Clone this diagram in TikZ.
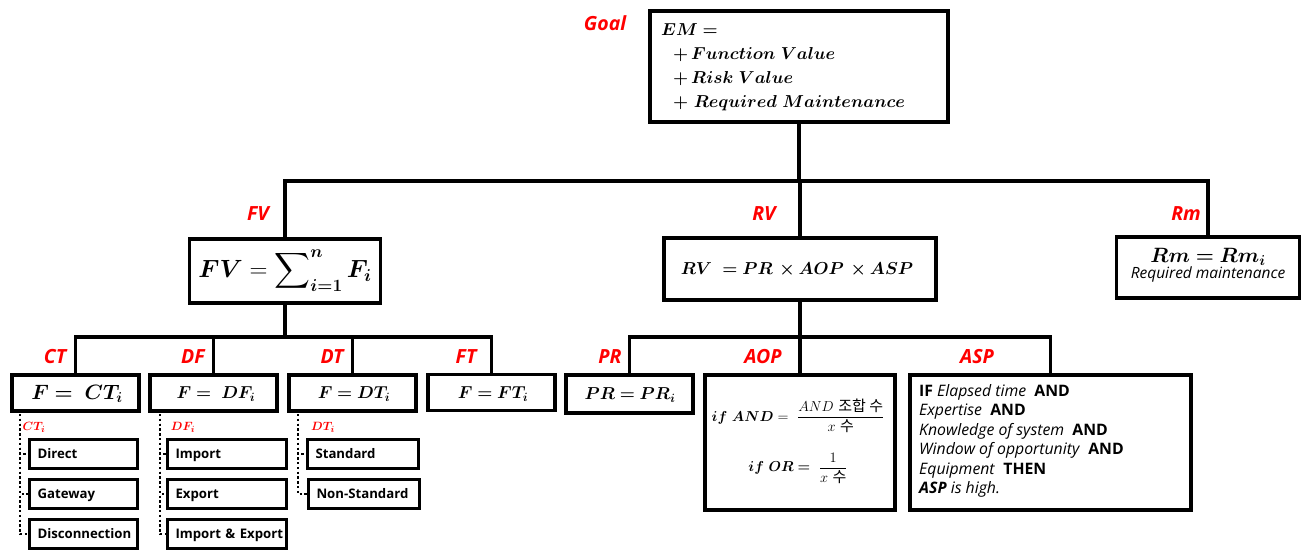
\documentclass[tikz,border=0pt]{standalone}
\usepackage{fontspec}
\usepackage{amsmath,bm}
\setsansfont{Open Sans}
\newfontfamily\kr{Noto Sans CJK KR}
\usetikzlibrary{shadows}
\tikzset{
  box/.style={draw, line width=3.6pt, fill=white, inner sep=0pt, line join=miter,
    drop shadow={shadow xshift=1.2pt, shadow yshift=-1.2pt, opacity=.3, fill=black}},
  itembox/.style={draw, line width=3pt, fill=white, inner xsep=8pt, inner ysep=0pt,
    text height=11pt, text depth=2pt,
    minimum height=29pt, align=left, font=\sffamily\bfseries\fontsize{13.2}{15}\selectfont,
    drop shadow={shadow xshift=1pt, shadow yshift=-1pt, opacity=.3, fill=black}},
  conn/.style={line width=3.6pt, line cap=rect, line join=miter},
  dotline/.style={line width=2.6pt, dash pattern=on 2.4pt off 2.4pt},
  lbl/.style={text=red, font=\sffamily\bfseries\itshape\fontsize{19.5}{22}\selectfont, inner sep=0pt},
  sublbl/.style={text=red, font=\fontsize{13}{15}\selectfont, inner sep=0pt},
  mathtxt/.style={inner sep=0pt}
}
\begin{document}
\begin{tikzpicture}[x=1pt,y=-1pt]
\useasboundingbox (0,0) rectangle (1305,552);
% ---------- boxes ----------
\node[box, minimum width=298, minimum height=111] (goal) at (799,66.5) {};
\node[box, minimum width=191, minimum height=64] (fv) at (285,271) {};
\node[box, minimum width=272, minimum height=62] (rv) at (800,269) {};
\node[box, minimum width=183, minimum height=61] (rm) at (1208,267.5) {};
\node[box, minimum width=127, minimum height=36] (ct) at (75.5,393) {};
\node[box, minimum width=127, minimum height=36] (df) at (213.5,393) {};
\node[box, minimum width=127, minimum height=36] (dt) at (352.5,393) {};
\node[box, minimum width=127, minimum height=36] (ft) at (491.5,392.5) {};
\node[box, minimum width=127, minimum height=38] (pr) at (629.5,394) {};
\node[box, minimum width=190, minimum height=135] (aop) at (800,442.5) {};
\node[box, minimum width=281, minimum height=135] (asp) at (1050.5,442.5) {};
% ---------- texts in boxes ----------
\node[mathtxt, anchor=north west, align=left, font=\fontsize{18}{24}\selectfont] (goaltxt) at (661,23)
  {$\bm{EM=}$\\[0pt]
   \hspace*{12pt}$\bm{+\,Function\ Value}$\\
   \hspace*{12pt}$\bm{+\,Risk\ Value}$\\
   \hspace*{12pt}$\bm{+\ Required\ Maintenance}$};
\node[mathtxt, font=\fontsize{24}{28}\selectfont] (fvtxt) at (285,271)
  {$\bm{FV}=\displaystyle\sum\nolimits_{\bm{i=1}}^{\bm{n}}\bm{F_i}$};
\node[mathtxt, font=\fontsize{18}{22}\selectfont] (rvtxt) at (797,270)
  {$\bm{RV\ =PR\,\times AOP\,\times ASP}$};
\node[mathtxt, anchor=north, align=center] (rmtxt) at (1208,248)
  {{\fontsize{21}{22}\selectfont$\bm{Rm=Rm_i}$}\\[0pt]
   {\sffamily\itshape\fontsize{15.5}{17}\selectfont Required maintenance}};
\node[mathtxt, font=\fontsize{20}{22}\selectfont] (cttxt) at (77,394) {$\bm{F=\ CT_i}$};
\node[mathtxt, font=\fontsize{17}{22}\selectfont] (dftxt) at (216,394) {$\bm{F=\ DF_i}$};
\node[mathtxt, font=\fontsize{17}{22}\selectfont] (dttxt) at (354,394) {$\bm{F=DT_i}$};
\node[mathtxt, font=\fontsize{17}{22}\selectfont] (fttxt) at (493,394) {$\bm{F=FT_i}$};
\node[mathtxt, font=\fontsize{17}{22}\selectfont] (prtxt) at (630,395) {$\bm{PR=PR_i}$};
\node[mathtxt, font=\fontsize{15}{18}\selectfont] (aop1) at (798,416)
  {$\bm{if\ AND}=\ \dfrac{AND\ \text{\kr 조합 수}}{x\ \text{\kr 수}}$};
\node[mathtxt, font=\fontsize{15}{18}\selectfont] (aop2) at (798,468)
  {$\bm{if\ OR=}\ \dfrac{1}{x\ \text{\kr 수}}$};
\node[mathtxt, anchor=north west, align=left, font=\sffamily\fontsize{15.8}{19.5}\selectfont] (asptxt) at (919,384)
  {\textbf{IF} \textit{Elapsed time}\ \ \textbf{AND}\\
   \textit{Expertise}\ \ \textbf{AND}\\
   \textit{Knowledge of system}\ \ \textbf{AND}\\
   \textit{Window of opportunity}\ \ \textbf{AND}\\
   \textit{Equipment}\ \ \textbf{THEN}\\
   \textbf{\textit{ASP}} \textit{is high.}};
% ---------- item boxes ----------
\node[itembox, text width=92] (direct) at (83.5,454) {Direct};
\node[itembox, text width=92] (gateway) at (83.5,494) {Gateway};
\node[itembox, text width=92] (disc) at (83.5,534) {Disconnection};
\node[itembox, text width=103] (import) at (227,454) {Import};
\node[itembox, text width=103] (export) at (227,494) {Export};
\node[itembox, text width=103] (impexp) at (227,534) {\mbox{Import \& Export}};
\node[itembox, text width=95] (standard) at (363,454) {Standard};
\node[itembox, text width=95] (nonstd) at (364,494) {Non-Standard};
% ---------- labels ----------
\node[lbl] (lgoal) at (605,23) {Goal};
\node[lbl] (lfv) at (258,214) {FV};
\node[lbl] (lrv) at (764,214) {RV};
\node[lbl] (lrm) at (1186,214) {Rm};
\node[lbl] (lct) at (55,357) {CT};
\node[lbl] (ldf) at (193,357) {DF};
\node[lbl] (ldt) at (332,357) {DT};
\node[lbl] (lft) at (466,357) {FT};
\node[lbl] (lpr) at (610,357) {PR};
\node[lbl] (laop) at (763,357) {AOP};
\node[lbl] (lasp) at (977,357) {ASP};
\node[sublbl] (lcti) at (34,427) {$\bm{CT_i}$};
\node[sublbl] (ldfi) at (183,427) {$\bm{DF_i}$};
\node[sublbl] (ldti) at (323,427) {$\bm{DT_i}$};
% ---------- connectors ----------
\coordinate (h1) at (0,181);
\coordinate (h2) at (0,337);
\draw[conn] (goal.south) -- (goal.south |- h1);
\draw[conn] (fv.north) -- (fv.north |- h1) -- (rm.north |- h1) -- (rm.north);
\draw[conn] (rv.north) -- (rv.north |- h1);
\draw[conn] (fv.south) -- (fv.south |- h2);
\draw[conn] (ct.north) -- (ct.north |- h2) -- (ft.north |- h2) -- (ft.north);
\draw[conn] (df.north) -- (df.north |- h2);
\draw[conn] (dt.north) -- (dt.north |- h2);
\draw[conn] (rv.south) -- (rv.south |- h2);
\draw[conn] (pr.north) -- (pr.north |- h2) -- (asp.north |- h2) -- (asp.north);
\draw[conn] (aop.north) -- (aop.north |- h2);
% dotted connectors
\coordinate (ctd) at (20,414);
\coordinate (dfd) at (160,414);
\coordinate (dtd) at (298,414);
\draw[dotline] (ctd) |- (direct.west);
\draw[dotline] (ctd) |- (gateway.west);
\draw[dotline] (ctd) |- (disc.west);
\draw[dotline] (dfd) |- (import.west);
\draw[dotline] (dfd) |- (export.west);
\draw[dotline] (dfd) |- (impexp.west);
\draw[dotline] (dtd) |- (standard.west);
\draw[dotline] (dtd) |- (nonstd.west);
\end{tikzpicture}
\end{document}
